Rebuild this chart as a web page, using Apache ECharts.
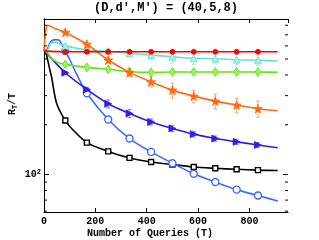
<!DOCTYPE html>
<html><head><meta charset="utf-8">
<script src="https://cdn.jsdelivr.net/npm/echarts@6/dist/echarts.min.js"></script>
<style>html,body{margin:0;padding:0;background:#fff}#c{width:319px;height:240px}</style>
</head><body><div id="c"></div>
<script>
// ---- data ----
const markerT = [83,167,250,333,417,500,583,667,750,833];
const xTicks = [0,200,400,600,800];
const yMinorTicks = [60,70,80,90,200,300,400,500,600,700,800];
const yMajorTicks = [100];

const redT = [0,83,167,250,333,417,500,583,667,750,833,910];
const redV = [560,553,553,553,553,553,553,553,553,553,553,553];
const redErr = [0,4,4,4,4,4,4,4,4,4,4,0];

const cyanT = [0,14,24,35,50,65,83,167,250,333,417,500,583,667,750,833,910];
const cyanV = [566,570,615,632,628,612,600,566,557,541,528,516,505,502,495,491,486];
const cyanErr = [0,0,0,0,0,0,12,18,22,25,30,44,43,35,35,35,0];

const greenT = [0,12,25,40,60,83,167,250,333,417,500,583,667,750,833,910];
const greenV = [566,548,515,490,472,464,445,433,419,415,417,417,417,417,417,416];
const greenErr = [0,0,0,0,0,8,8,8,8,8,8,8,8,8,8,0];

const orangeT = [0,8,15,25,40,60,83,167,250,333,417,500,583,667,750,833,910];
const orangeV = [566,760,800,790,767,749,725,614,493,415,364,324,298,278,263,250,243];
const orangeErr = [0,0,0,0,0,0,20,17,21,23,26,33,26,28,27,28,0];

const blueT = [0,12,22,31,45,58,70,83,101,127,167,250,333,417,500,583,667,750,833,910];
const blueV = [566,572,620,645,655,652,610,558,493,405,310,215,165,137,117,101,90,81,74.6,69.2];
const blueErr = [0,0,0,0,0,0,0,6,6,5,4,3,3,3,3,2,2,2,0,0];

const indigoT = [0,83,167,250,333,417,500,583,667,750,833,910];
const indigoV = [566,413,327,268,234,208,190,175.5,165,157.6,151,145];
const indigoErr = [0,9,10,15,13,9,8,7,6,6,5,0];

const blackT = [0,8,20,30,49,83,113,167,250,333,417,500,583,667,750,833,910];
const blackV = [566,540,450,385,270,212,186,156,138,126,119,115,111,109,107.5,106.3,105.8];

const X_MIN = 0, X_MAX = 950, Y_MIN = 59.3, Y_MAX = 873;
const FONT = '"Liberation Mono", "DejaVu Sans Mono", monospace';

const STAR = 'path://M50,0 L61,35 L98,35 L68,57 L79,91 L50,70 L21,91 L32,57 L2,35 L39,35 Z';

function fade(hex, a){
  const n = parseInt(hex.slice(1),16);
  return 'rgba(' + ((n>>16)&255) + ',' + ((n>>8)&255) + ',' + (n&255) + ',' + a + ')';
}

const defs = [
  {name:'black', T:blackT, V:blackV, E:null, color:'#000000', symbol:'rect', size:5, fill:'none', rot:0, z:3},
  {name:'blue', T:blueT, V:blueV, E:blueErr, color:'#3a6cff', symbol:'circle', size:7, fill:'none', rot:0, z:4},
  {name:'indigo', T:indigoT, V:indigoV, E:indigoErr, color:'#2e1ee6', symbol:'triangle', size:7, fill:'#2e1ee6', rot:-90, z:5},
  {name:'green', T:greenT, V:greenV, E:greenErr, color:'#5ee610', symbol:'diamond', size:[6,9], fill:'#9af060', rot:0, z:6},
  {name:'cyan', T:cyanT, V:cyanV, E:cyanErr, color:'#66e0cc', symbol:'triangle', size:7, fill:'#a8f0e4', rot:0, z:7},
  {name:'orange', T:orangeT, V:orangeV, E:orangeErr, color:'#ff6a10', symbol:STAR, size:9, fill:'#ff6a10', rot:0, z:8},
  {name:'red', T:redT, V:redV, E:redErr, color:'#ff0000', symbol:'circle', size:5, fill:'#ff0000', rot:0, z:9}
];

const series = [];
defs.forEach(d => {
  if (d.E) {
    const eb = [];
    d.T.forEach((t,i) => { if (markerT.includes(t) && d.E[i] > 0) eb.push([t, d.V[i]-d.E[i], d.V[i]+d.E[i]]); });
    series.push({
      type:'custom', z:d.z-0.5, silent:true,
      data: eb,
      encode:{x:0, y:[1,2]},
      renderItem: (params, api) => {
        const x = api.value(0);
        const lo = api.coord([x, api.value(1)]);
        const hi = api.coord([x, api.value(2)]);
        const st = {stroke: fade(d.color, 0.55), lineWidth: 1};
        return {type:'group', children:[
          {type:'line', shape:{x1:lo[0], y1:lo[1], x2:hi[0], y2:hi[1]}, style:st},
          {type:'line', shape:{x1:lo[0]-2, y1:lo[1], x2:lo[0]+2, y2:lo[1]}, style:st},
          {type:'line', shape:{x1:hi[0]-2, y1:hi[1], x2:hi[0]+2, y2:hi[1]}, style:st}
        ]};
      }
    });
  }
  series.push({
    type:'line', name:d.name, z:d.z, smooth:0.3,
    data: d.T.map((t,i) => markerT.includes(t) ? [t, d.V[i]] : {value:[t, d.V[i]], symbol:'none'}),
    symbol: d.symbol, symbolSize: d.size, symbolRotate: d.rot, showAllSymbol:true,
    lineStyle:{color:d.color, width:1.6},
    itemStyle:{color: d.fill === 'none' ? '#ffffff' : d.fill, borderColor:d.color, borderWidth: d.fill === 'none' ? 1.4 : 0.8, opacity:1},
    emphasis:{disabled:true}
  });
});

// custom y-axis ticks (minor + major) on left and right borders
series.push({
  type:'custom', silent:true, z:20,
  data: yMinorTicks.map(v => [v, 3]).concat(yMajorTicks.map(v => [v, 5])),
  encode:{y:0},
  renderItem: (params, api) => {
    const v = api.value(0), len = api.value(1);
    const l = api.coord([X_MIN, v]), r = api.coord([X_MAX, v]);
    const st = {stroke:'#000', lineWidth:1};
    return {type:'group', children:[
      {type:'line', shape:{x1:l[0], y1:l[1], x2:l[0]+len, y2:l[1]}, style:st},
      {type:'line', shape:{x1:r[0], y1:r[1], x2:r[0]-len, y2:r[1]}, style:st}
    ]};
  }
});

const chart = echarts.init(document.getElementById('c'), null, {renderer:'canvas'});
chart.setOption({
  animation:false,
  backgroundColor:'#ffffff',
  grid:{left:44, right:31, top:19, bottom:28, containLabel:false},
  xAxis:[{
    type:'value', min:X_MIN, max:X_MAX, interval:200, position:'bottom',
    axisLine:{show:true, lineStyle:{color:'#000', width:1}},
    axisTick:{show:true, inside:true, length:4, lineStyle:{color:'#000'}},
    axisLabel:{show:true, margin:4, color:'#000', fontFamily:FONT, fontWeight:'bold', fontSize:10, showMaxLabel:false,
      formatter: v => xTicks.includes(v) ? String(v) : ''},
    splitLine:{show:false}
  },{
    type:'value', min:X_MIN, max:X_MAX, interval:200, position:'top',
    axisLine:{show:true, lineStyle:{color:'#000', width:1}},
    axisTick:{show:true, inside:true, length:4, lineStyle:{color:'#000'}},
    axisLabel:{show:false}, splitLine:{show:false}
  }],
  yAxis:[{
    type:'log', logBase:10, min:Y_MIN, max:Y_MAX, position:'left',
    axisLine:{show:true, lineStyle:{color:'#000', width:1}},
    axisTick:{show:false},
    axisLabel:{show:true, margin:3, color:'#000', fontFamily:FONT, fontWeight:'bold', fontSize:10,
      formatter: v => Math.abs(v-100) < 0.5 ? '{a|10}{s|2}' : '',
      rich:{a:{fontFamily:FONT, fontWeight:'bold', fontSize:10, color:'#000', lineHeight:12, verticalAlign:'middle'},
            s:{fontFamily:FONT, fontWeight:'bold', fontSize:7, color:'#000', lineHeight:12, verticalAlign:'top'}}},
    splitLine:{show:false}
  },{
    type:'log', logBase:10, min:Y_MIN, max:Y_MAX, position:'right',
    axisLine:{show:true, lineStyle:{color:'#000', width:1}},
    axisTick:{show:false}, axisLabel:{show:false}, splitLine:{show:false}
  }],
  graphic:[
    {type:'text', x:166, y:8, style:{text:"(D,d',M') = (40,5,8)", fontFamily:FONT, fontWeight:'bold', fontSize:12, fill:'#000', align:'center', verticalAlign:'middle'}},
    {type:'text', x:150, y:233, style:{text:'Number of Queries (T)', fontFamily:FONT, fontWeight:'bold', fontSize:10, fill:'#000', align:'center', verticalAlign:'middle'}},
    {type:'text', x:12, y:104, rotation:Math.PI/2, style:{
      text:'{r|R}{t|T}{r|/T}', align:'center', verticalAlign:'middle',
      rich:{r:{fontFamily:FONT, fontWeight:'bold', fontSize:10, fill:'#000', lineHeight:13, verticalAlign:'middle'},
            t:{fontFamily:FONT, fontWeight:'bold', fontSize:7, fill:'#000', lineHeight:13, verticalAlign:'bottom'}}}}
  ],
  series: series
});
</script></body></html>
